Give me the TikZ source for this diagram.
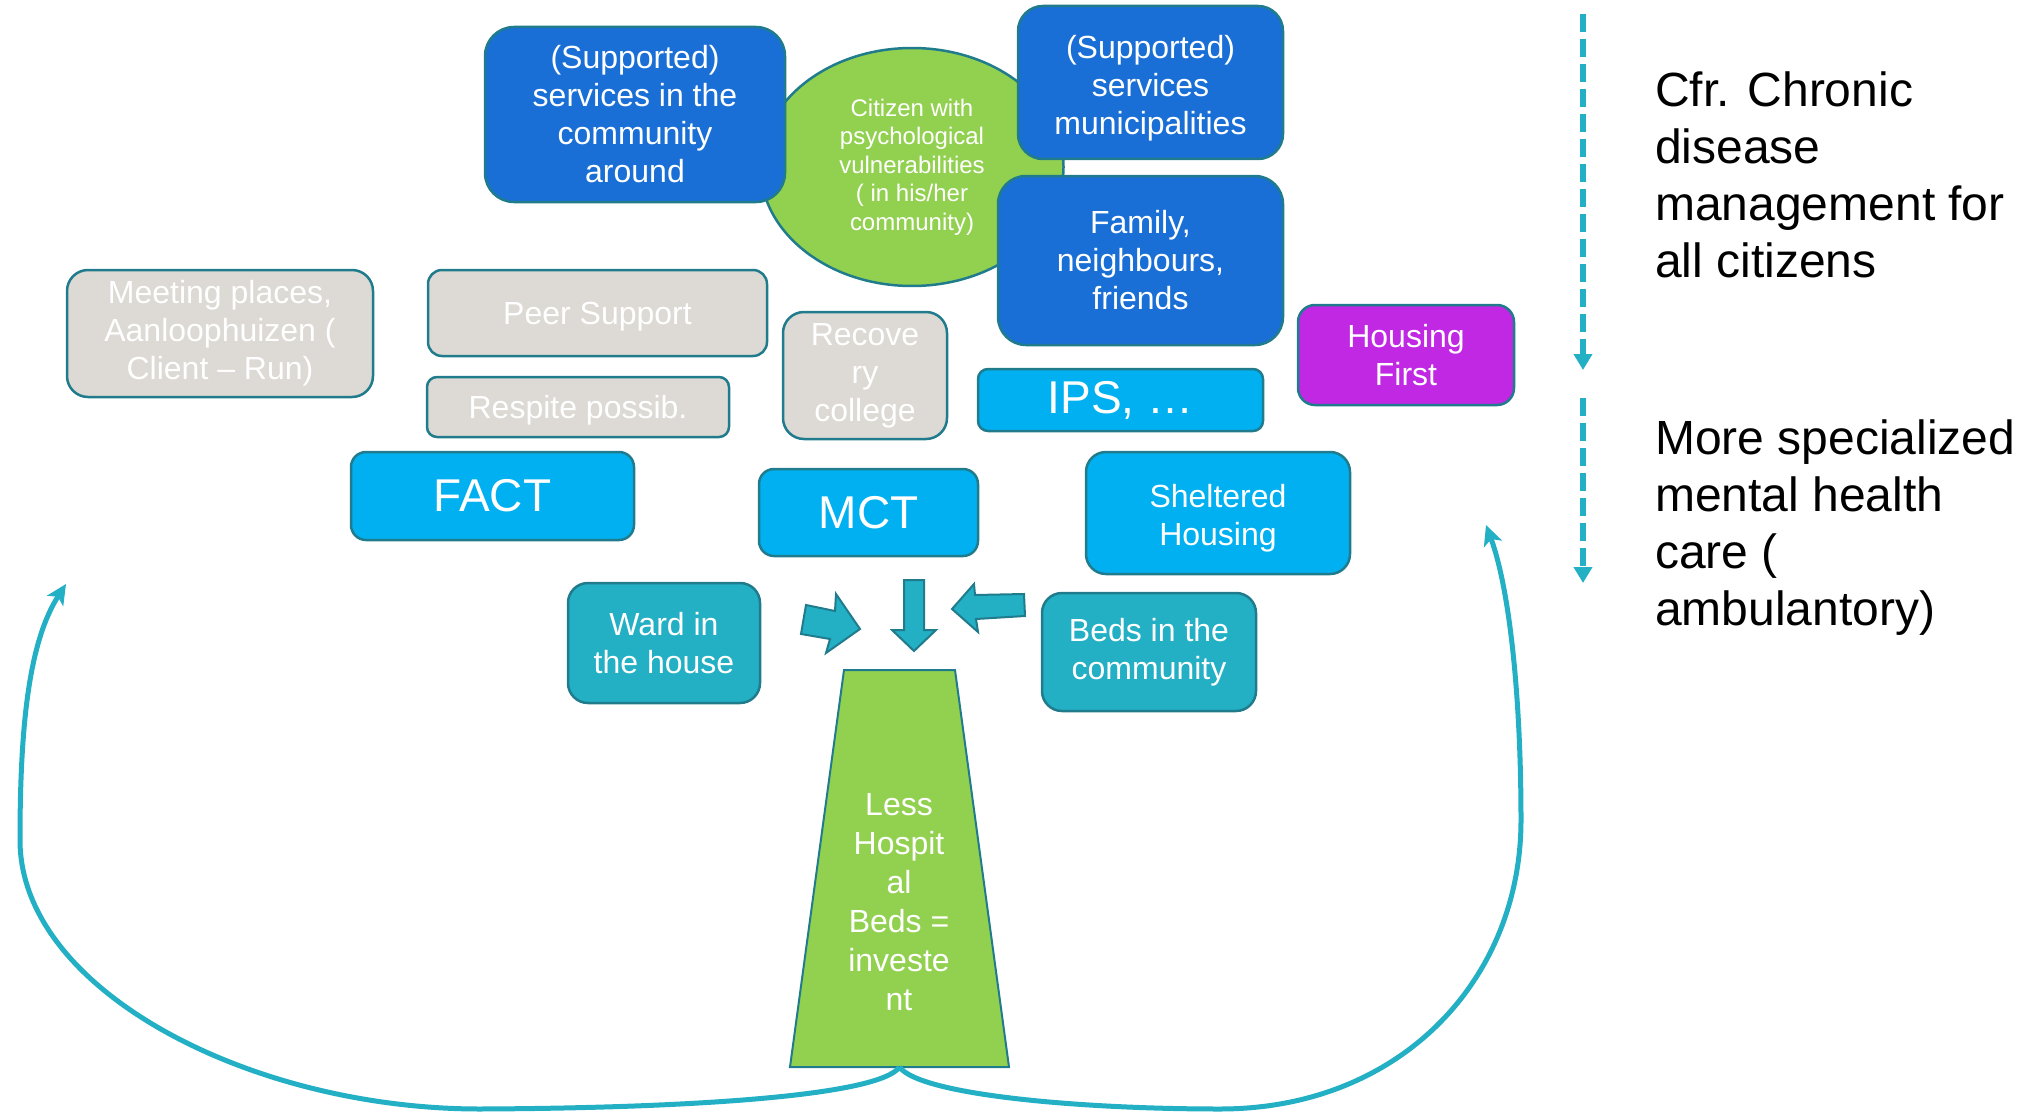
\documentclass[tikz,border=0pt]{standalone}
\usepackage{fontspec}
\setmainfont{Liberation Sans}
\usetikzlibrary{arrows.meta,shapes.geometric}

\definecolor{deepblue}{RGB}{26,111,214}
\definecolor{skyblue}{RGB}{0,176,240}
\definecolor{tealfill}{RGB}{35,175,196}
\definecolor{edgeteal}{RGB}{32,124,140}
\definecolor{palegray}{RGB}{221,217,212}
\definecolor{leafgreen}{RGB}{146,208,80}
\definecolor{hfmagenta}{RGB}{192,40,228}

% strut giving every text block the full ascent of its first line
\newcommand\lineTopStrut{\rule{0pt}{0.905em}}

\tikzset{
  struts/.style={execute at begin node=\lineTopStrut},
  frame/.style={draw=edgeteal, line width=2.5pt, rounded corners=#1, inner sep=0pt,
    align=center, text=white},
  box/.style={frame=#1, font=\fontsize{32pt}{38pt}\selectfont, struts},
  bigbox/.style={frame=#1, font=\fontsize{46pt}{54pt}\selectfont},
  blockarrow/.style={fill=tealfill, draw=edgeteal, line width=2pt, line join=miter},
  loop/.style={draw=tealfill, line width=5pt, -{Stealth[length=20pt,width=19pt,inset=5pt]}},
  dasharrow/.style={draw=tealfill, line width=6pt, dash pattern=on 18pt off 7pt,
    -{Triangle[length=16pt,width=18pt]}},
  sidenote/.style={anchor=base west, align=left, text=black,
    font=\fontsize{48pt}{57pt}\selectfont, inner sep=0pt}
}

\begin{document}
\begin{tikzpicture}[x=1pt, y=-1pt]
\useasboundingbox (0,0) rectangle (2040,1113);

% person at the centre
\node[ellipse, draw=edgeteal, line width=2.5pt, fill=leafgreen, inner sep=0pt,
      minimum width=303pt, minimum height=238pt, align=center, text=white,
      font=\fontsize{24pt}{28.6pt}\selectfont, struts] (citizen) at (912,167)
  {Citizen with\\psychological\\vulnerabilities\\( in his/her\\community)};

% community and social network
\node[box=29pt, fill=deepblue, minimum width=300pt, minimum height=175pt] (commsvc) at (635,114.5)
  {(Supported)\\services in the\\community\\around};
\node[box=25pt, fill=deepblue, minimum width=265pt, minimum height=153pt] (munisvc) at (1150.5,82.5)
  {\rule{0pt}{34pt}(Supported)\\services\\municipalities};
\node[box=28pt, fill=deepblue, minimum width=285pt, minimum height=169pt] (family) at (1140.5,260.5)
  {Family,\\neighbours,\\friends};

% peer and recovery offers
\node[box=21pt, fill=palegray, minimum width=306pt, minimum height=127pt] (meeting) at (220,333.5)
  {Meeting places,\\Aanloophuizen (\\Client -- Run)};
\node[box=14pt, fill=palegray, minimum width=339pt, minimum height=86pt] (peer) at (597.5,313)
  {Peer Support};
\node[box=10pt, fill=palegray, minimum width=302pt, minimum height=60pt] (respite) at (578,407)
  {Respite possib.};
\node[box=21pt, fill=palegray, minimum width=164pt, minimum height=127pt] (recovery) at (865,375.5)
  {Recove\\ry\\college};

% ambulatory teams and housing
\node[bigbox=15pt, fill=skyblue, minimum width=283pt, minimum height=88pt] (fact) at (492.5,496)
  {FACT};
\node[bigbox=15pt, fill=skyblue, minimum width=219pt, minimum height=87pt] (mct) at (868.5,512.5)
  {MCT};
\node[bigbox=10pt, fill=skyblue, minimum width=285pt, minimum height=62pt] (ips) at (1120.5,400)
  {IPS, …};
\node[box=17pt, fill=hfmagenta, minimum width=216pt, minimum height=100pt] (hfirst) at (1406,355)
  {Housing\\First};
\node[box=20pt, fill=skyblue, minimum width=264pt, minimum height=122pt] (sheltered) at (1218,513)
  {\rule{0pt}{33pt}Sheltered\\Housing};

% alternatives to admission
\node[box=20pt, fill=tealfill, minimum width=214pt, minimum height=118pt] (bedscomm) at (1149,652)
  {Beds in the\\community};
\node[box=20pt, fill=tealfill, minimum width=192pt, minimum height=120pt] (ward) at (664,643)
  {Ward in\\the house};

% three block arrows pointing at the trunk
\draw[blockarrow] (806,605) -- (835,611) -- (836,594) -- (860,629) -- (826,653) -- (830,639) -- (801,634) -- cycle;
\draw[blockarrow] (904,580) -- (924,580) -- (924,630) -- (936,630) -- (914,651) -- (892,630) -- (904,630) -- cycle;
\draw[blockarrow] (1024,594) -- (1025,616) -- (976,619) -- (978,632) -- (952,609) -- (974,584) -- (975,595) -- cycle;

% trunk
\draw[fill=leafgreen, draw=edgeteal, line width=2pt] (844,670) -- (955,670) -- (1009,1067) -- (790,1067) -- cycle;
\node[align=center, text=white, font=\fontsize{32pt}{39pt}\selectfont, struts] (trunk) at (899,902)
  {Less\\Hospit\\al\\Beds =\\investe\\nt};
\coordinate (root) at (899.5,1067);
\coordinate (leftend) at (66,584);
\coordinate (rightend) at (1486,525);

% loops from the trunk back up
\draw[loop] (root) .. controls (880,1095) and (700,1108) .. (480,1109)
  .. controls (250,1109) and (20,990) .. (20,840)
  .. controls (20,720) and (30,640) .. (leftend);
\draw[loop] (root) .. controls (920,1095) and (1080,1109) .. (1220,1109)
  .. controls (1400,1109) and (1521,980) .. (1521,820)
  .. controls (1521,700) and (1510,590) .. (rightend);

% levels on the right
\coordinate (d1s) at (1583,14);
\coordinate (d1e) at (1583,370);
\coordinate (d2s) at (1583,398);
\coordinate (d2e) at (1583,583);
\draw[dasharrow] (d1s) -- (d1e);
\draw[dasharrow] (d2s) -- (d2e);

% the base anchor of a multi-line node sits on its last line
\node[sidenote] (chronic) at (1655,277)
  {Cfr. Chronic\\disease\\management for\\all citizens};
\node[sidenote] (special) at (1655,625)
  {More specialized\\mental health\\care (\\ambulantory)};
\end{tikzpicture}
\end{document}
